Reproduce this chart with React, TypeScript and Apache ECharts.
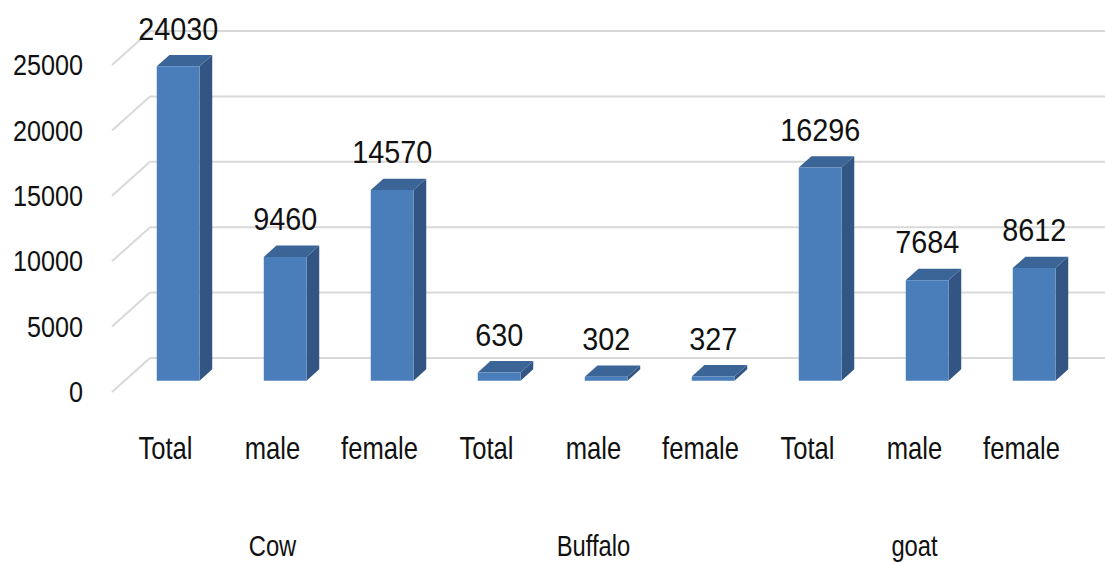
import React, { useEffect, useRef } from "react";
import * as echarts from "echarts";

const categories = ["Total", "male", "female", "Total", "male", "female", "Total", "male", "female"];
const groups = ["Cow", "Buffalo", "goat"];
const groupCenters = [1, 4, 7];
const values = [24030, 9460, 14570, 630, 302, 327, 16296, 7684, 8612];
const yTicks = [0, 5000, 10000, 15000, 20000, 25000];

const FONT = "'Liberation Sans', Arial, sans-serif";
const DX = 38;
const DY = -34;
const FRONT = "#4a7ebb";
const SIDE = "#325583";
const TOP = "#3b6597";
const GRID = "#d9d9d9";
const TEXT = "#111111";

export default function App() {
  const ref = useRef<HTMLDivElement>(null);
  useEffect(() => {
    if (!ref.current) return;
    const chart = echarts.init(ref.current, null, { renderer: "svg" });
    const option: any = {
      animation: false,
      backgroundColor: "#ffffff",
      grid: { left: 112, right: 30, top: 65, bottom: 172, containLabel: false },
      xAxis: {
        type: "category",
        data: categories,
        axisLine: { show: false },
        axisTick: { show: false },
        axisLabel: { show: false },
      },
      yAxis: {
        type: "value",
        min: 0,
        max: 25000,
        interval: 5000,
        axisLine: { show: false },
        axisTick: { show: false },
        splitLine: { show: false },
        axisLabel: { show: false },
      },
      series: [
        // back-wall gridlines + left diagonals + y tick labels
        {
          type: "custom",
          silent: true,
          z: 1,
          data: yTicks.map((t) => [0, t]),
          renderItem: (params: any, api: any) => {
            const t = api.value(1);
            const bw = api.size([1, 0])[0];
            const p0 = api.coord([0, t]);
            const p8 = api.coord([categories.length - 1, t]);
            const left = p0[0] - bw / 2;
            const right = p8[0] + bw / 2;
            const y = p0[1];
            const style = { stroke: GRID, lineWidth: 2, fill: "none" };
            return {
              type: "group",
              children: [
                { type: "line", shape: { x1: left, y1: y, x2: left + DX, y2: y + DY }, style },
                { type: "line", shape: { x1: left + DX, y1: y + DY, x2: right + DX, y2: y + DY }, style },
                {
                  type: "text",
                  x: left - 29,
                  y: y,
                  scaleX: 0.84,
                  style: {
                    text: String(t),
                    fontFamily: FONT,
                    fontSize: 30,
                    fill: TEXT,
                    align: "right",
                    verticalAlign: "middle",
                  },
                },
              ],
            };
          },
        },
        // category labels
        {
          type: "custom",
          silent: true,
          z: 1,
          data: categories.map((c, i) => [i, 0]),
          renderItem: (params: any, api: any) => {
            const i = api.value(0);
            const p = api.coord([i, 0]);
            return {
              type: "text",
              x: p[0],
              y: p[1] + 56,
              scaleX: 0.8,
              style: {
                text: categories[i],
                fontFamily: FONT,
                fontSize: 32,
                fill: TEXT,
                align: "center",
                verticalAlign: "middle",
              },
            };
          },
        },
        // group labels
        {
          type: "custom",
          silent: true,
          z: 1,
          data: groupCenters.map((c) => [c, 0]),
          renderItem: (params: any, api: any) => {
            const c = api.value(0);
            const p = api.coord([c, 0]);
            return {
              type: "text",
              x: p[0],
              y: p[1] + 154,
              scaleX: 0.82,
              style: {
                text: groups[params.dataIndex],
                fontFamily: FONT,
                fontSize: 29,
                fill: TEXT,
                align: "center",
                verticalAlign: "middle",
              },
            };
          },
        },
        // 3D bars
        {
          type: "custom",
          silent: true,
          z: 2,
          data: values.map((v, i) => [i, v]),
          renderItem: (params: any, api: any) => {
            const i = api.value(0);
            const v = api.value(1);
            const base = api.coord([i, 0]);
            const top = api.coord([i, v]);
            const bw = api.size([1, 0])[0];
            const hw = bw * 0.2;
            const fx = DX / 3;
            const fy = DY / 3;
            const cx = base[0] + fx;
            const by = base[1] + fy;
            const ty = top[1] + fy;
            return {
              type: "group",
              children: [
                {
                  type: "polygon",
                  shape: {
                    points: [
                      [cx + hw, ty],
                      [cx + hw + fx, ty + fy],
                      [cx + hw + fx, by + fy],
                      [cx + hw, by],
                    ],
                  },
                  style: { fill: SIDE },
                },
                {
                  type: "polygon",
                  shape: {
                    points: [
                      [cx - hw, ty],
                      [cx + hw, ty],
                      [cx + hw + fx, ty + fy],
                      [cx - hw + fx, ty + fy],
                    ],
                  },
                  style: { fill: TOP },
                },
                {
                  type: "rect",
                  shape: { x: cx - hw, y: ty, width: hw * 2, height: by - ty },
                  style: { fill: FRONT },
                },
                {
                  type: "text",
                  x: cx,
                  y: ty + fy - 27,
                  scaleX: 0.9,
                  style: {
                    text: String(v),
                    fontFamily: FONT,
                    fontSize: 32,
                    fill: TEXT,
                    align: "center",
                    verticalAlign: "middle",
                  },
                },
              ],
            };
          },
        },
      ],
    };
    chart.setOption(option);
    return () => chart.dispose();
  }, []);
  return (
    <div
      ref={ref}
      style={{ position: "fixed", left: 0, top: 0, width: 1105, height: 564, background: "#fff" }}
    />
  );
}
